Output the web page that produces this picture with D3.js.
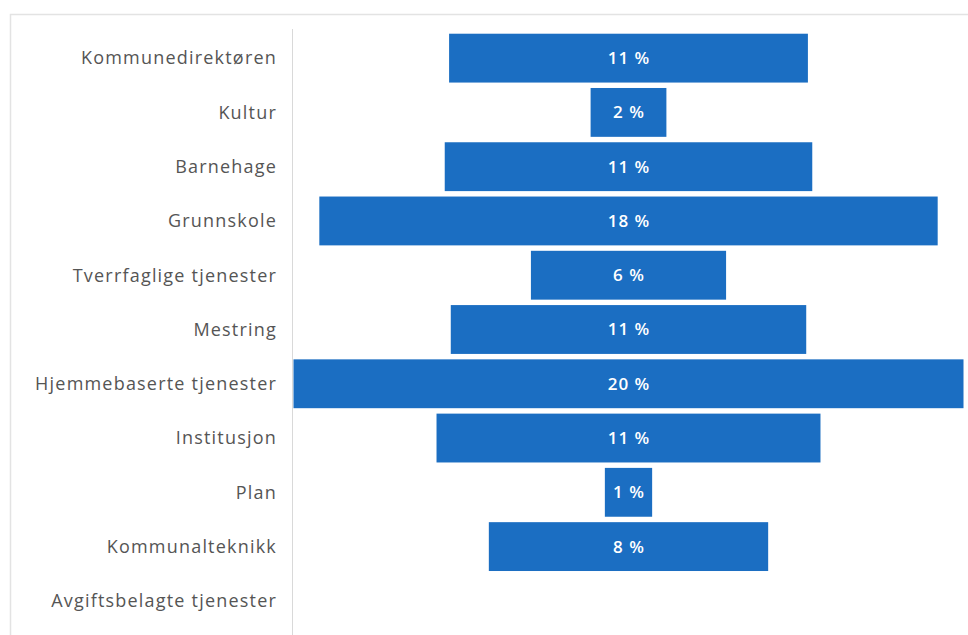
<!DOCTYPE html>
<html lang="no">
<head>
<meta charset="UTF-8">
<title>Andel per tjenesteområde</title>
<style>
    body { margin: 0; background: #fff; }
    svg { display: block; }
</style>
</head>
<body>
<script src="https://d3js.org/d3.v7.min.js"></script>
<script>
    const categories = ["Kommunedirektøren", "Kultur", "Barnehage", "Grunnskole", "Tverrfaglige tjenester",
        "Mestring", "Hjemmebaserte tjenester", "Institusjon", "Plan", "Kommunalteknikk", "Avgiftsbelagte tjenester"];
    const values = [10.70, 2.26, 10.96, 18.44, 5.82, 10.60, 19.98, 11.45, 1.41, 8.33, 0];

    const width = 968, height = 635;
    const plotLeft = 293.5, plotRight = 963.5, plotTop = 31, plotBottom = 628;
    const barColor = "#1b6ec2";

    const svg = d3.select("body").append("svg")
        .attr("width", width)
        .attr("height", height);

    // card frame
    svg.append("path")
        .attr("d", `M10.5,${height} V14.5 H${width}`)
        .attr("fill", "none")
        .attr("stroke", "#e3e3e3")
        .attr("stroke-width", 1.5);

    const y = d3.scaleBand()
        .domain(categories)
        .range([plotTop, plotBottom])
        .paddingInner(0.1)
        .paddingOuter(0.05);

    const x = d3.scaleLinear()
        .domain([0, d3.max(values)])
        .range([0, plotRight - plotLeft]);

    const mid = (plotLeft + plotRight) / 2;

    // axis line
    svg.append("line")
        .attr("x1", plotLeft - 1).attr("x2", plotLeft - 1)
        .attr("y1", plotTop - 2).attr("y2", height)
        .attr("stroke", "#d9d9d9")
        .attr("stroke-width", 1);

    const rows = svg.selectAll(".row")
        .data(categories.map((c, i) => ({ name: c, value: values[i] })))
        .enter().append("g")
        .attr("class", "row");

    rows.append("text")
        .attr("x", 277)
        .attr("y", d => y(d.name) + y.bandwidth() / 2)
        .attr("dy", "0.35em")
        .attr("text-anchor", "end")
        .attr("font-family", "'Open Sans', sans-serif")
        .attr("font-size", 18)
        .attr("letter-spacing", 1.2)
        .attr("fill", "#555")
        .text(d => d.name);

    const bars = rows.filter(d => d.value > 0);

    bars.append("rect")
        .attr("x", d => mid - x(d.value) / 2)
        .attr("y", d => y(d.name))
        .attr("width", d => x(d.value))
        .attr("height", y.bandwidth())
        .attr("fill", barColor);

    bars.append("text")
        .attr("x", mid + 0.5)
        .attr("y", d => y(d.name) + y.bandwidth() / 2)
        .attr("dy", "0.35em")
        .attr("text-anchor", "middle")
        .attr("font-family", "'Open Sans', sans-serif")
        .attr("font-size", 17)
        .attr("font-weight", 600)
        .attr("letter-spacing", 1)
        .attr("fill", "white")
        .text(d => Math.round(d.value) + " %");
</script>
</body>
</html>
